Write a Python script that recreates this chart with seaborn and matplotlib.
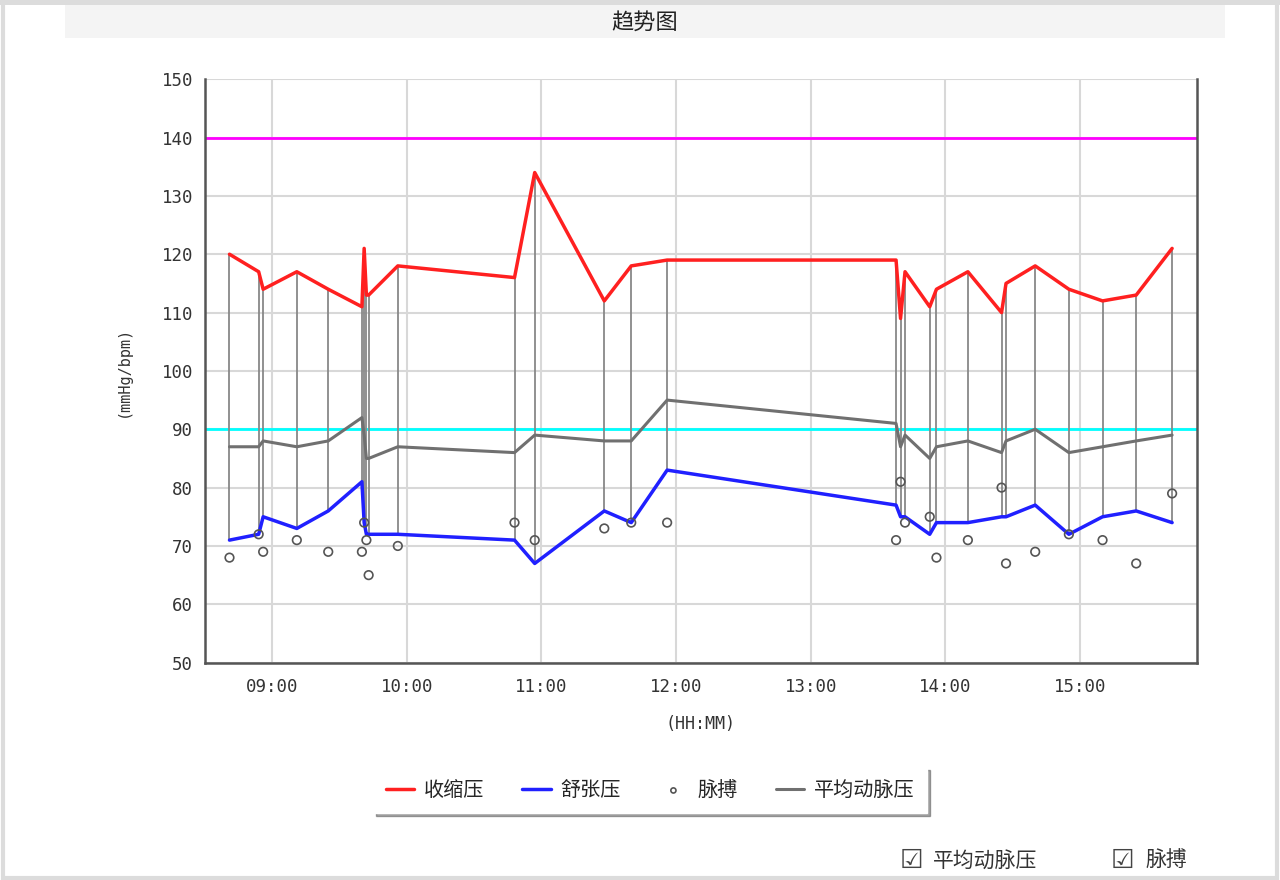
import pandas as pd
import numpy as np
import matplotlib.pyplot as plt
import matplotlib.dates as mdates
from matplotlib.patches import Rectangle
import seaborn as sns

# readings of the day (HH:MM)
times = ["08:41", "08:54", "08:56", "09:11", "09:25", "09:40", "09:41", "09:42",
         "09:43", "09:56", "10:48", "10:57", "11:28", "11:40", "11:56", "13:38",
         "13:40", "13:42", "13:53", "13:56", "14:10", "14:25", "14:27", "14:40",
         "14:55", "15:10", "15:25", "15:41"]
systolic = [120, 117, 114, 117, 114, 111, 121, 113, 113, 118, 116, 134, 112, 118,
            119, 119, 109, 117, 111, 114, 117, 110, 115, 118, 114, 112, 113, 121]
diastolic = [71, 72, 75, 73, 76, 81, 74, 72, 72, 72, 71, 67, 76, 74,
             83, 77, 75, 75, 72, 74, 74, 75, 75, 77, 72, 75, 76, 74]
mean_ap = [87, 87, 88, 87, 88, 92, 89, 85, 85, 87, 86, 89, 88, 88,
           95, 91, 87, 89, 85, 87, 88, 86, 88, 90, 86, 87, 88, 89]
pulse = [68, 72, 69, 71, 69, 69, 74, 71, 65, 70, 74, 71, 73, 74,
         74, 71, 81, 74, 75, 68, 71, 80, 67, 69, 72, 71, 67, 79]

upper_limit = 140
lower_limit = 90

df = pd.DataFrame({
    'time': pd.to_datetime(['2024-01-01 ' + t for t in times]),
    'sys': systolic,
    'dia': diastolic,
    'map': mean_ap,
    'pulse': pulse,
})

sns.set_style("white")
plt.rcParams['font.family'] = ['Noto Sans CJK SC', 'DejaVu Sans']
mono = ['DejaVu Sans Mono', 'Noto Sans CJK SC']

fig = plt.figure(figsize=(12.8, 8.8), dpi=100)
ax = fig.add_axes([0.160, 0.247, 0.775, 0.663])

# window frame and title band
fig.patches.append(Rectangle((0.002, 0.002), 0.996, 0.996, transform=fig.transFigure,
                             fill=False, edgecolor='#dcdcdc', lw=3))
fig.patches.append(Rectangle((0, 0.994), 1, 0.006, transform=fig.transFigure,
                             facecolor='#dcdcdc', edgecolor='none'))
fig.patches.append(Rectangle((0.051, 0.957), 0.906, 0.037, transform=fig.transFigure,
                             facecolor='#f4f4f4', edgecolor='none'))
fig.text(0.504, 0.975, '趋势图', ha='center', va='center', fontsize=16, color='#222222')

# limits
ax.axhline(upper_limit, color='#ff00ff', lw=2, zorder=2)
ax.axhline(lower_limit, color='#00ffff', lw=2, zorder=2)

# vertical bars between systolic and diastolic
ax.vlines(df['time'], df['dia'], df['sys'], color='#888888', lw=1.3, zorder=3)

sns.lineplot(data=df, x='time', y='sys', color='#ff2020', lw=2.5, ax=ax,
             label='收缩压', zorder=4)
sns.lineplot(data=df, x='time', y='dia', color='#2020ff', lw=2.5, ax=ax,
             label='舒张压', zorder=4)
sns.scatterplot(data=df, x='time', y='pulse', marker='o', s=38, facecolor='none',
                edgecolor='#555555', linewidth=1.2, ax=ax, label='脉搏', zorder=5)
sns.lineplot(data=df, x='time', y='map', color='#707070', lw=2.2, ax=ax,
             label='平均动脉压', zorder=4)

ax.set_ylim(50, 150)
ax.set_yticks(range(50, 151, 10))
ax.set_xlim(pd.Timestamp('2024-01-01 08:30'), pd.Timestamp('2024-01-01 15:52'))
ax.xaxis.set_major_locator(mdates.HourLocator())
ax.xaxis.set_minor_locator(mdates.MinuteLocator(byminute=range(0, 60, 10)))
ax.xaxis.set_major_formatter(mdates.DateFormatter('%H:%M'))

ax.grid(True, which='major', color='#d8d8d8', lw=1.5)
ax.set_axisbelow(True)
for side in ['left', 'bottom', 'right']:
    ax.spines[side].set_color('#555555')
    ax.spines[side].set_linewidth(1.8)
ax.spines['top'].set_visible(False)
ax.tick_params(axis='both', which='major', direction='out', length=5, width=1,
               color='#555555', labelsize=12.5, labelcolor='#333333')
ax.tick_params(axis='x', which='minor', direction='out', length=3, width=1,
               color='#555555')
ax.tick_params(axis='x', which='major', pad=6)
for lab in ax.get_xticklabels() + ax.get_yticklabels():
    lab.set_family(mono)

ax.set_xlabel('(HH:MM)', fontsize=12, color='#333333', labelpad=14, family=mono)
ax.set_ylabel('(mmHg/bpm)', fontsize=11, color='#333333', labelpad=22, family=mono)

leg = ax.legend(loc='center', bbox_to_anchor=(0.508, 0.102), bbox_transform=fig.transFigure,
                ncol=4, frameon=True, fancybox=False, shadow=True, fontsize=14.5,
                columnspacing=1.9, handlelength=1.4, handletextpad=0.5,
                borderpad=0.6, markerscale=0.6)
leg.get_frame().set_edgecolor('white')

# check boxes
cb = ['DejaVu Sans', 'Noto Sans CJK SC']
fig.text(0.703, 0.022, '☑', fontsize=19, color='#444444', va='center', family=cb)
fig.text(0.729, 0.022, '平均动脉压', fontsize=15, color='#333333', va='center', family=cb)
fig.text(0.868, 0.022, '☑', fontsize=19, color='#444444', va='center', family=cb)
fig.text(0.895, 0.022, '脉搏', fontsize=15, color='#333333', va='center', family=cb)

fig.savefig('out.png', dpi=100)
